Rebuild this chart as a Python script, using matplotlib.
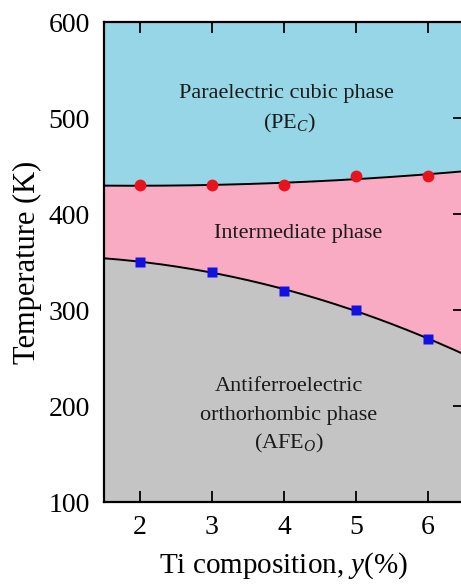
import numpy as np
import matplotlib
matplotlib.use("Agg")
import matplotlib.pyplot as plt

plt.rcParams['font.family'] = ['Liberation Serif', 'DejaVu Serif']
plt.rcParams['mathtext.fontset'] = 'custom'
plt.rcParams['mathtext.rm'] = 'Liberation Serif'
plt.rcParams['mathtext.it'] = 'Liberation Serif:italic'

# Ti composition (%) and measured transition temperatures (K)
ti_content = [2, 3, 4, 5, 6]
t_upper = [430, 430, 430, 440, 440]   # intermediate -> paraelectric cubic
t_lower = [350, 340, 320, 300, 270]   # antiferroelectric -> intermediate

x_ticks = [2, 3, 4, 5, 6]
y_ticks = [100, 200, 300, 400, 500, 600]
x_range = (1.5, 6.5)
y_range = (100, 600)

c_cubic = '#96d6e6'
c_inter = '#f9abc4'
c_afe = '#c4c4c4'

fig = plt.figure(figsize=(4.61, 5.85), dpi=100)
ax = fig.add_axes([104 / 461, 1 - 502 / 585, 360 / 461, 480 / 585])

# smooth phase boundaries from quadratic fits to the measured points
xs = np.linspace(x_range[0], x_range[1], 300)
fit_up = np.polyval(np.polyfit(ti_content, t_upper, 2), xs)
fit_lo = np.polyval(np.polyfit(ti_content, t_lower, 2), xs)

ax.fill_between(xs, fit_up, y_range[1], color=c_cubic, lw=0)
ax.fill_between(xs, fit_lo, fit_up, color=c_inter, lw=0)
ax.fill_between(xs, y_range[0], fit_lo, color=c_afe, lw=0)
ax.plot(xs, fit_up, color='black', lw=1.4, zorder=3)
ax.plot(xs, fit_lo, color='black', lw=1.4, zorder=3)

ax.plot(ti_content, t_upper, 'o', color='#e8141c', ms=8.5, mec='none', zorder=4)
ax.plot(ti_content, t_lower, 's', color='#1212e0', ms=7.5, mec='none', zorder=4)

ax.set_xlim(*x_range)
ax.set_ylim(*y_range)
ax.set_xticks(x_ticks)
ax.set_yticks(y_ticks)
ax.tick_params(axis='x', direction='in', top=True, bottom=True, length=8,
               width=1.3, labelsize=20, pad=9)
ax.tick_params(axis='y', direction='in', left=False, right=True, length=8,
               width=1.3, labelsize=20, pad=10)
for s in ax.spines.values():
    s.set_linewidth(1.6)

ax.set_xlabel(r'Ti composition, $\it{y}$(%)', fontsize=21, labelpad=8)
ax.set_ylabel('Temperature (K)', fontsize=22, labelpad=5)

tk = dict(ha='center', va='center', fontsize=16, color='#1a1a1a')
ax.text(4.03, 526, 'Paraelectric cubic phase', **tk)
ax.text(4.08, 494, r'(PE$_{\it{C}}$)', **tk)
ax.text(4.2, 380, 'Intermediate phase', **tk)
ax.text(4.07, 220, 'Antiferroelectric', **tk)
ax.text(4.07, 190, 'orthorhombic phase', **tk)
ax.text(4.07, 161, r'(AFE$_{\it{O}}$)', **tk)

fig.savefig('out.png', dpi=100)
